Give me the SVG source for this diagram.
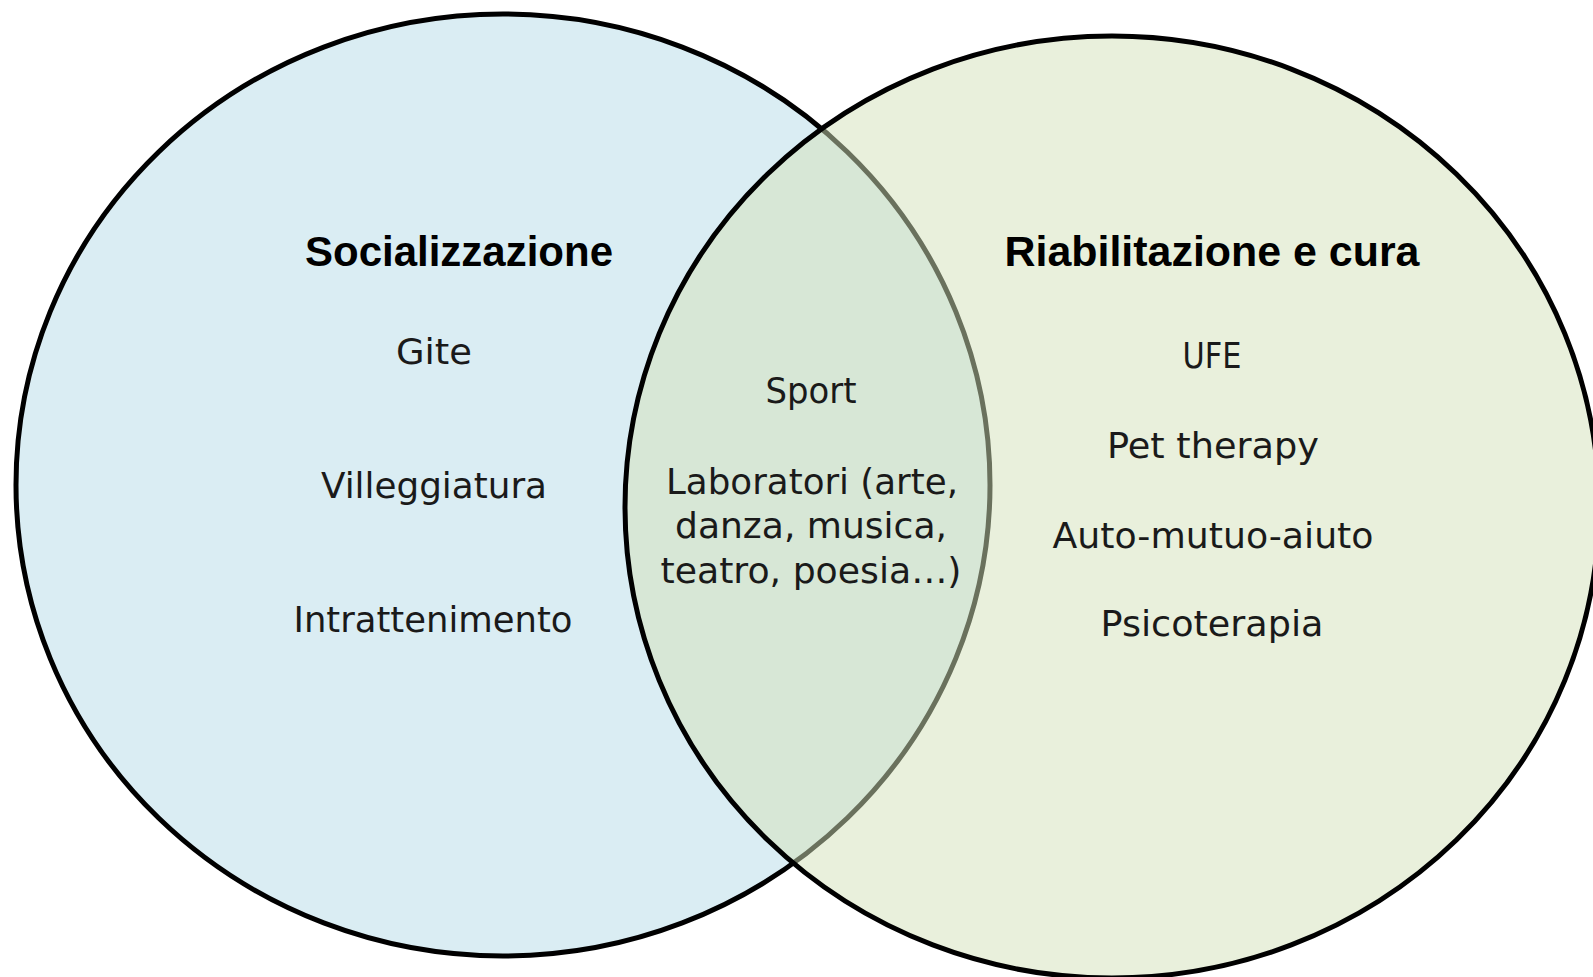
<svg xmlns="http://www.w3.org/2000/svg" width="1593" height="977" viewBox="0 0 1593 977">
<style>
.t{font-family:"DejaVu Sans","Liberation Sans",sans-serif;font-size:36px;fill:#1a1a1a;text-anchor:middle}
.h{font-family:"Liberation Sans","DejaVu Sans",sans-serif;font-size:43px;font-weight:bold;fill:#000;text-anchor:middle}
</style>
<rect width="1593" height="977" fill="#fff"/>
<g id="left">
<ellipse cx="503" cy="485" rx="487" ry="471" fill="#DAEDF3" stroke="#000" stroke-width="5"/>
</g>
<g id="right">
<ellipse cx="1112" cy="507" rx="487" ry="471" fill="rgb(211,225,185)" fill-opacity="0.5" stroke="#000" stroke-width="5"/>
</g>
<g id="labels-left">
<text class="h" x="459" y="266" textLength="308" lengthAdjust="spacingAndGlyphs">Socializzazione</text>
<text class="t" x="434" y="364" textLength="76" lengthAdjust="spacingAndGlyphs">Gite</text>
<text class="t" x="434" y="498" textLength="226" lengthAdjust="spacingAndGlyphs">Villeggiatura</text>
<text class="t" x="433" y="632" textLength="279" lengthAdjust="spacingAndGlyphs">Intrattenimento</text>
</g>
<g id="labels-center">
<text class="t" x="811" y="403" textLength="91" lengthAdjust="spacingAndGlyphs">Sport</text>
<text class="t" x="812" y="494" textLength="292" lengthAdjust="spacingAndGlyphs">Laboratori (arte,</text>
<text class="t" x="811" y="538" textLength="272" lengthAdjust="spacingAndGlyphs">danza, musica,</text>
<text class="t" x="811" y="583" textLength="301" lengthAdjust="spacingAndGlyphs">teatro, poesia…)</text>
</g>
<g id="labels-right">
<text class="h" x="1212" y="266" textLength="415" lengthAdjust="spacingAndGlyphs">Riabilitazione e cura</text>
<text class="t" x="1212" y="368" textLength="59" lengthAdjust="spacingAndGlyphs">UFE</text>
<text class="t" x="1213" y="458" textLength="212" lengthAdjust="spacingAndGlyphs">Pet therapy</text>
<text class="t" x="1213" y="548" textLength="321" lengthAdjust="spacingAndGlyphs">Auto-mutuo-aiuto</text>
<text class="t" x="1212" y="636" textLength="223" lengthAdjust="spacingAndGlyphs">Psicoterapia</text>
</g>
<g id="connectors"></g>
</svg>
